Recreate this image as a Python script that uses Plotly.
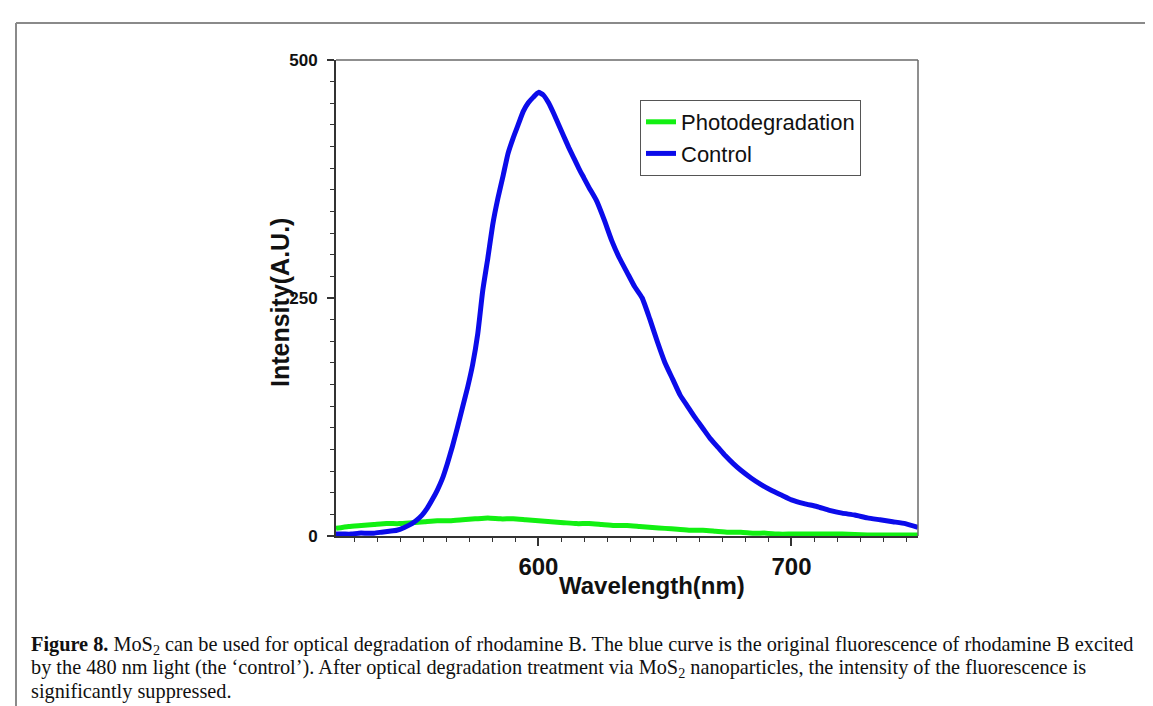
import plotly.graph_objects as go

# ---- data ----
wl_control = [520,523,526,529,532,535,538,541,544,547,550,552,554,556,558,560,562,564,566,568,
              570,572,574,576,578,580,582,584,586,588,590,592,594,596,598,600,602,604,606,608,
              610,612,614,616,618,620,623,626,629,632,635,638,641,644,647,650,653,656,659,662,
              665,668,671,674,677,680,684,688,692,696,700,705,710,715,720,725,730,735,740,745,750]
control = [2,2,2,3,3,3,4,5,6,9,13,17,22,29,38,48,60,76,94,114,
           135,156,180,212,258,292,328,355,378,402,418,432,446,455,461,466,463,455,444,432,
           420,408,397,386,376,366,352,332,310,292,277,262,250,228,204,182,165,148,136,124,
           113,102,93,84,76,69,61,54,48,43,38,34,31,27,24,22,19,17,15,13,9]

wl_photo = [520,525,530,535,540,545,550,555,560,565,570,575,580,585,590,595,600,605,610,615,
            620,625,630,635,640,645,650,655,660,665,670,675,680,685,690,695,700,710,720,730,740,750]
photo = [8,10,11,12,13,13,14,15,16,16,17,18,19,18,18,17,16,15,14,13,
         13,12,11,11,10,9,8,7,6,6,5,4,4,3,3,2,2,2,2,1,1,1]

x_ticks = [600, 700]
y_ticks = [0, 250, 500]

# ---- layout geometry (pixels) ----
W, H = 1153, 706
L, R, T, B = 328, 910, 52, 528


def px(xp):
    return (xp - L) / (R - L)


def py(yp):
    return (B - yp) / (B - T)


fig = go.Figure()
fig.add_trace(go.Scatter(x=wl_photo, y=photo, mode="lines", name="Photodegradation",
                         line=dict(color="#12f012", width=5, shape="spline", smoothing=0.5)))
fig.add_trace(go.Scatter(x=wl_control, y=control, mode="lines", name="Control",
                         line=dict(color="#0b0bea", width=5, shape="spline", smoothing=0.5)))

axis_font = "Liberation Sans, Arial, sans-serif"

fig.update_layout(
    width=W, height=H,
    margin=dict(l=L, r=W - R, t=T, b=H - B, pad=0),
    paper_bgcolor="white", plot_bgcolor="white",
    showlegend=True,
    legend=dict(x=px(632), y=py(92), xanchor="left", yanchor="top",
                bgcolor="white", bordercolor="#555555", borderwidth=1,
                font=dict(family=axis_font, size=22, color="#111111"),
                tracegroupgap=0, itemwidth=30),
    xaxis=dict(range=[520, 750], tickvals=x_ticks, ticktext=[str(v) for v in x_ticks],
               showgrid=False, zeroline=False, showline=True, linecolor="#333333", linewidth=2,
               ticks="outside", ticklen=8, tickwidth=1.5, tickcolor="#333333",
               tickfont=dict(family=axis_font, size=24, color="#111111", weight="bold"),
               minor=dict(tick0=600, dtick=100 / 11, ticks="outside", ticklen=4,
                          tickcolor="#333333", tickwidth=1.2, showgrid=False)),
    yaxis=dict(range=[0, 500], tickvals=y_ticks, ticktext=[str(v) for v in y_ticks],
               showgrid=False, zeroline=False, showline=True, linecolor="#333333", linewidth=2,
               ticks="outside", ticklen=7, tickwidth=1.5, tickcolor="#333333",
               ticklabelstandoff=6,
               tickfont=dict(family=axis_font, size=17, color="#111111", weight="bold"),
               minor=dict(tick0=0, dtick=250 / 11, ticks="outside", ticklen=4,
                          tickcolor="#333333", tickwidth=1.2, showgrid=False)),
)

# plot frame (top / right) and page frame lines
shapes = [
    dict(type="line", xref="paper", yref="paper", x0=0, x1=1, y0=1, y1=1,
         line=dict(color="#6a6a6a", width=1.5)),
    dict(type="line", xref="paper", yref="paper", x0=1, x1=1, y0=0, y1=1,
         line=dict(color="#6a6a6a", width=1.5)),
    dict(type="line", xref="paper", yref="paper", x0=px(8), x1=px(1170), y0=py(15), y1=py(15),
         line=dict(color="#8a8a8a", width=2)),
    dict(type="line", xref="paper", yref="paper", x0=px(8), x1=px(8), y0=py(15), y1=py(720),
         line=dict(color="#8a8a8a", width=2)),
]
fig.update_layout(shapes=shapes)

annotations = [
    dict(text="<b>Wavelength(nm)</b>", xref="paper", yref="paper", x=px(644), y=py(577),
         xanchor="center", yanchor="middle", showarrow=False,
         font=dict(family=axis_font, size=24, color="#111111")),
    dict(text="<b>Intensity(A.U.)</b>", xref="paper", yref="paper", x=px(272), y=py(295),
         xanchor="center", yanchor="middle", showarrow=False, textangle=-90,
         font=dict(family=axis_font, size=25, color="#111111")),
]

cap_font = dict(family="Liberation Serif, Times New Roman, serif", size=20.3, color="#111111")
caption_lines = [
    "<b>Figure 8.</b> MoS<sub>2</sub> can be used for optical degradation of rhodamine B. "
    "The blue curve is the original fluorescence of rhodamine B excited",
    "by the 480 nm light (the \u2018control\u2019). After optical degradation treatment via "
    "MoS<sub>2</sub> nanoparticles, the intensity of the fluorescence is",
    "significantly suppressed.",
]
for i, line in enumerate(caption_lines):
    annotations.append(dict(text=line, xref="paper", yref="paper", x=px(21), y=py(637 + 23 * i),
                            xanchor="left", yanchor="middle", showarrow=False, align="left",
                            font=cap_font))
fig.update_layout(annotations=annotations)

fig.write_html("out.html")
